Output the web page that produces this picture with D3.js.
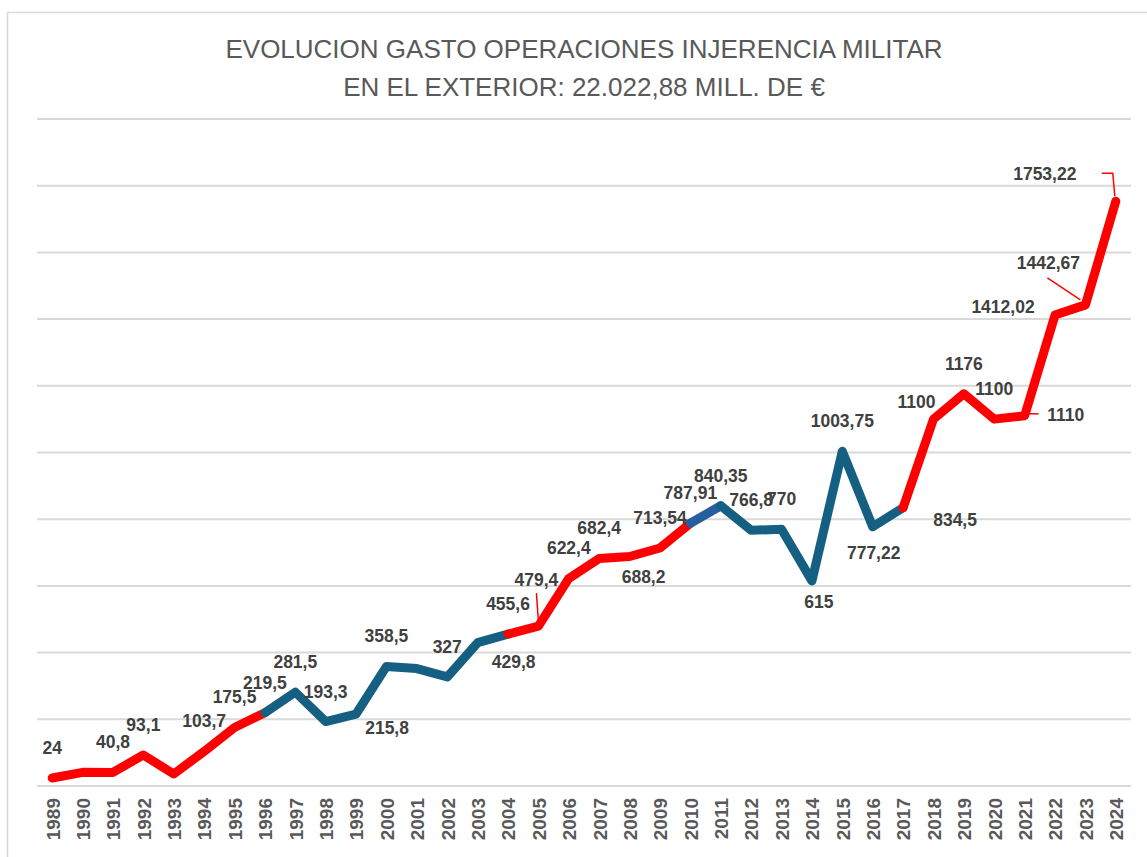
<!DOCTYPE html>
<html>
<head>
<meta charset="utf-8">
<script src="https://cdn.jsdelivr.net/npm/d3@7"></script>
<style>
  body { margin: 0; background: #fff; }
  svg { display: block; }
</style>
</head>
<body>
<div id="chart"></div>
<script>
const years = [1989, 1990, 1991, 1992, 1993, 1994, 1995, 1996, 1997, 1998, 1999, 2000,
  2001, 2002, 2003, 2004, 2005, 2006, 2007, 2008, 2009, 2010, 2011, 2012,
  2013, 2014, 2015, 2016, 2017, 2018, 2019, 2020, 2021, 2022, 2023, 2024];

// million euros per year (1990, 1993 and 2001 have no label)
const spending = [24, 41, 40.8, 93.1, 36, 103.7, 175.5, 219.5, 281.5, 193.3, 215.8, 358.5,
  352, 327, 429.8, 455.6, 479.4, 622.4, 682.4, 688.2, 713.54, 787.91, 840.35, 766.8,
  770, 615, 1003.75, 777.22, 834.5, 1100, 1176, 1100, 1110, 1412.02, 1442.67, 1753.22];

// which years show a label, and the text shown
const labelText = {
  1989: "24", 1991: "40,8", 1992: "93,1", 1994: "103,7", 1995: "175,5", 1996: "219,5",
  1997: "281,5", 1998: "193,3", 1999: "215,8", 2000: "358,5", 2002: "327", 2003: "429,8",
  2004: "455,6", 2005: "479,4", 2006: "622,4", 2007: "682,4", 2008: "688,2", 2009: "713,54",
  2010: "787,91", 2011: "840,35", 2012: "766,8", 2013: "770", 2014: "615", 2015: "1003,75",
  2016: "777,22", 2017: "834,5", 2018: "1100", 2019: "1176", 2020: "1100", 2021: "1110",
  2022: "1412,02", 2023: "1442,67", 2024: "1753,22"
};

const yTicks = [0, 200, 400, 600, 800, 1000, 1200, 1400, 1600, 1800, 2000];

const titleLines = [
  "EVOLUCION GASTO OPERACIONES INJERENCIA MILITAR",
  "EN EL EXTERIOR: 22.022,88 MILL. DE €"
];

// colour runs along the line
const RED = "#ff0000", TEAL = "#156082", BLUE = "#265e9e";
const runs = [
  { from: 1989, to: 1996, color: RED },
  { from: 1996, to: 2004, color: TEAL },
  { from: 2004, to: 2010, color: RED },
  { from: 2010, to: 2011, color: BLUE },
  { from: 2011, to: 2017, color: TEAL },
  { from: 2017, to: 2024, color: RED }
];

// label placement relative to the point (dx to text centre, dy to baseline)
const defaultOffset = [0, -24];
const labelOffset = {
  1999: [31, 20], 2003: [36, 25], 2005: [-2, -40], 2008: [14, 27], 2014: [7, 27],
  2016: [1, 32], 2017: [52, 18], 2018: [-17, -11], 2021: [41, 5], 2022: [-52, -2],
  2023: [-37, -36], 2024: [-71, -21]
};
// leader lines, points relative to the data point
const leaders = {
  2005: [[-2, -33], [0, -5]],
  2021: [[2, -2], [14, -2]],
  2023: [[-38, -27], [-5, -5]],
  2024: [[-14, -28], [-3, -28], [-1, -5]]
};

const W = 1147, H = 857;
const margin = { top: 119, right: 16, bottom: 71, left: 37 };

const svg = d3.select("#chart").append("svg")
  .attr("width", W).attr("height", H);

// chart frame
svg.append("rect")
  .attr("x", 7.5).attr("y", 12.5)
  .attr("width", W + 20).attr("height", H + 20)
  .attr("fill", "#fff")
  .attr("stroke", "#d9d9d9")
  .attr("stroke-width", 1.5);

const x = d3.scalePoint()
  .domain(years)
  .range([margin.left, W - margin.right])
  .padding(0.5);

const y = d3.scaleLinear()
  .domain([0, 2000])
  .range([H - margin.bottom, margin.top]);

// title
svg.append("g")
  .selectAll("text")
  .data(titleLines)
  .join("text")
  .attr("x", (margin.left + W - margin.right) / 2)
  .attr("y", (d, i) => 58 + i * 38)
  .attr("text-anchor", "middle")
  .attr("font-family", "'Liberation Sans', Arial, sans-serif")
  .attr("font-size", 26)
  .attr("fill", "#595959")
  .text((d) => d);

// gridlines
svg.append("g")
  .selectAll("line")
  .data(yTicks)
  .join("line")
  .attr("x1", margin.left)
  .attr("x2", W - margin.right)
  .attr("y1", (d) => y(d))
  .attr("y2", (d) => y(d))
  .attr("stroke", "#d9d9d9")
  .attr("stroke-width", 2);

// x axis
const xAxis = svg.append("g")
  .attr("transform", `translate(0, ${y(0)})`)
  .call(d3.axisBottom(x).tickSize(0));
xAxis.select(".domain").remove();
xAxis.selectAll("text")
  .attr("transform", "rotate(-90)")
  .attr("x", -12)
  .attr("y", 0)
  .attr("dy", "0.36em")
  .attr("text-anchor", "end")
  .attr("font-family", "'Liberation Sans', Arial, sans-serif")
  .attr("font-weight", "bold")
  .attr("font-size", 19)
  .attr("fill", "#595959");

const data = years.map((yr, i) => ({ year: yr, value: spending[i] }));

const line = d3.line()
  .x((d) => x(d.year))
  .y((d) => y(d.value));

// line runs
svg.append("g")
  .selectAll("path")
  .data(runs)
  .join("path")
  .attr("d", (r) => line(data.filter((d) => d.year >= r.from && d.year <= r.to)))
  .attr("fill", "none")
  .attr("stroke", (r) => r.color)
  .attr("stroke-width", 9)
  .attr("stroke-linejoin", "round")
  .attr("stroke-linecap", "round");

// leader lines
svg.append("g")
  .selectAll("polyline")
  .data(Object.keys(leaders))
  .join("polyline")
  .attr("points", (k) => {
    const d = data.find((p) => p.year === +k);
    return leaders[k].map((p) => [x(d.year) + p[0], y(d.value) + p[1]].join(",")).join(" ");
  })
  .attr("fill", "none")
  .attr("stroke", RED)
  .attr("stroke-width", 1.5);

// data labels
const labelled = data.filter((d) => labelText[d.year] !== undefined);
svg.append("g")
  .selectAll("text")
  .data(labelled)
  .join("text")
  .attr("x", (d) => x(d.year) + (labelOffset[d.year] || defaultOffset)[0])
  .attr("y", (d) => y(d.value) + (labelOffset[d.year] || defaultOffset)[1])
  .attr("text-anchor", "middle")
  .attr("font-family", "'Liberation Sans', Arial, sans-serif")
  .attr("font-weight", "bold")
  .attr("font-size", 17.5)
  .attr("fill", "#404040")
  .text((d) => labelText[d.year]);
</script>
</body>
</html>
